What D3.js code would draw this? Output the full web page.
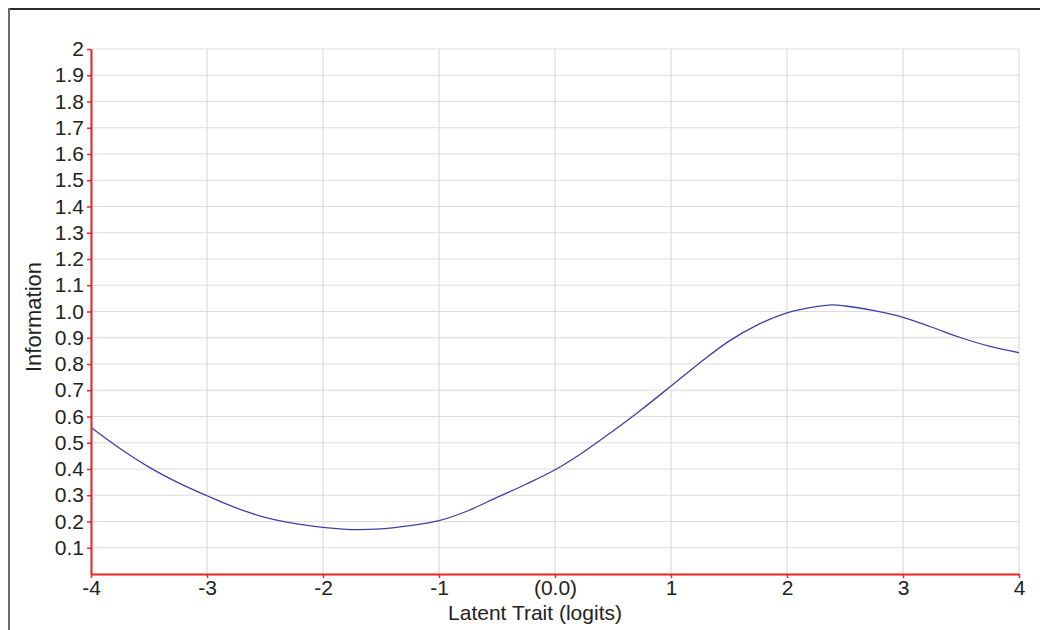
<!DOCTYPE html>
<html>
<head>
<meta charset="utf-8">
<script src="https://cdn.jsdelivr.net/npm/d3@7"></script>
<style>
  body { margin: 0; background: #fff; }
  svg { display: block; font-family: "Liberation Sans", Arial, sans-serif; }
</style>
</head>
<body>
<script>
// test information curve
const traitX = [-4, -3.75, -3.5, -3.25, -3, -2.75, -2.5, -2.25, -2, -1.7, -1.5, -1.25, -1, -0.75, -0.5, -0.25, 0, 0.25, 0.5, 0.75, 1, 1.25, 1.5, 1.75, 2, 2.2, 2.4, 2.5, 2.75, 3, 3.25, 3.5, 3.75, 4];
const information = [0.558, 0.478, 0.407, 0.348, 0.298, 0.252, 0.216, 0.193, 0.178, 0.169, 0.172, 0.184, 0.203, 0.241, 0.292, 0.342, 0.397, 0.466, 0.545, 0.628, 0.716, 0.805, 0.887, 0.95, 0.995, 1.015, 1.025, 1.021, 1.003, 0.978, 0.94, 0.9, 0.867, 0.843];

const xTicks = [-4, -3, -2, -1, 0, 1, 2, 3, 4];
const xTickLabels = ["-4", "-3", "-2", "-1", "(0.0)", "1", "2", "3", "4"];
const yTicks = [0.1, 0.2, 0.3, 0.4, 0.5, 0.6, 0.7, 0.8, 0.9, 1.0, 1.1, 1.2, 1.3, 1.4, 1.5, 1.6, 1.7, 1.8, 1.9, 2.0];
const yTickLabels = ["0.1", "0.2", "0.3", "0.4", "0.5", "0.6", "0.7", "0.8", "0.9", "1.0", "1.1", "1.2", "1.3", "1.4", "1.5", "1.6", "1.7", "1.8", "1.9", "2"];

const width = 1040;
const height = 630;
const margin = { top: 49, right: 21, bottom: 55, left: 91 };

const svg = d3.select("body")
  .append("svg")
  .attr("width", width)
  .attr("height", height);

// outer frame (runs off the page at right and bottom)
svg.append("line")
  .attr("x1", 8).attr("x2", width).attr("y1", 9).attr("y2", 9)
  .attr("stroke", "#2a2a2a").attr("stroke-width", 2);
svg.append("line")
  .attr("x1", 9).attr("x2", 9).attr("y1", 8).attr("y2", height)
  .attr("stroke", "#6a6a6a").attr("stroke-width", 2);

const xScale = d3.scaleLinear().domain([-4, 4]).range([margin.left, width - margin.right]);
const yScale = d3.scaleLinear().domain([0, 2]).range([height - margin.bottom - 1, margin.top]);

// grid
svg.append("g")
  .selectAll("line")
  .data(yTicks)
  .enter()
  .append("line")
  .attr("x1", margin.left).attr("x2", width - margin.right)
  .attr("y1", d => yScale(d)).attr("y2", d => yScale(d))
  .attr("stroke", "#dcdcdc").attr("stroke-width", 1.2);

svg.append("g")
  .selectAll("line")
  .data(xTicks)
  .enter()
  .append("line")
  .attr("x1", d => xScale(d)).attr("x2", d => xScale(d))
  .attr("y1", yScale(2)).attr("y2", yScale(0))
  .attr("stroke", "#dcdcdc").attr("stroke-width", 1.2);

// curve
const line = d3.line()
  .x((d, i) => xScale(traitX[i]))
  .y(d => yScale(d))
  .curve(d3.curveMonotoneX);

svg.append("path")
  .datum(information)
  .attr("fill", "none")
  .attr("stroke", "#4040a4")
  .attr("stroke-width", 1.3)
  .attr("d", line);

// axes
const xAxis = d3.axisBottom(xScale)
  .tickValues(xTicks)
  .tickFormat((d, i) => xTickLabels[i])
  .tickSize(4)
  .tickSizeOuter(0)
  .tickPadding(3);

const gx = svg.append("g")
  .attr("transform", `translate(0, ${yScale(0)})`)
  .call(xAxis);

const yAxis = d3.axisLeft(yScale)
  .tickValues(yTicks)
  .tickFormat((d, i) => yTickLabels[i])
  .tickSize(4)
  .tickSizeOuter(0)
  .tickPadding(3);

const gy = svg.append("g")
  .attr("transform", `translate(${margin.left}, 0)`)
  .call(yAxis);

[gx, gy].forEach(g => {
  g.select(".domain").attr("stroke", "#ee2222").attr("stroke-width", 2);
  g.selectAll(".tick line").attr("stroke", "#ee2222").attr("stroke-width", 1.5);
  g.selectAll(".tick text")
    .attr("fill", "#222")
    .style("font-size", "21px")
    .style("font-family", "'Liberation Sans', Arial, sans-serif");
});
gx.selectAll(".tick text").attr("dy", "0.68em");

// axis titles
svg.append("text")
  .attr("x", 535)
  .attr("y", 620)
  .attr("text-anchor", "middle")
  .attr("fill", "#222")
  .style("font-size", "21px")
  .text("Latent Trait (logits)");

svg.append("text")
  .attr("transform", "translate(41, 317) rotate(-90)")
  .attr("text-anchor", "middle")
  .attr("fill", "#222")
  .style("font-size", "22px")
  .text("Information");
</script>
</body>
</html>
